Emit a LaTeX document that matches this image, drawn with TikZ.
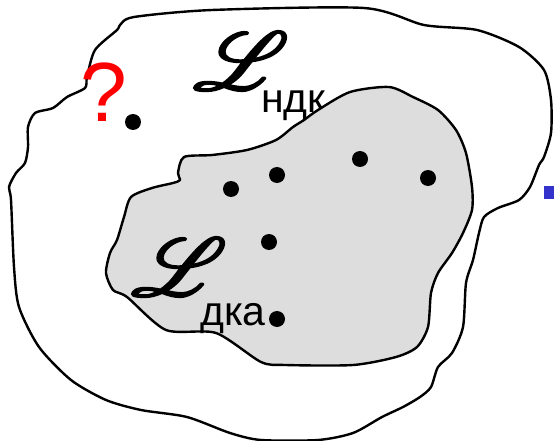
\documentclass[tikz,border=0pt]{standalone}
\usepackage{fontspec}
\usepackage{mathrsfs}
\setmainfont{Liberation Sans}
\definecolor{blobgray}{HTML}{DDDDDD}
\definecolor{qred}{HTML}{FF0000}
\definecolor{sqblue}{HTML}{3333CC}
\newcommand{\heavyscript}[1]{\special{pdf:literal direct 2 Tr 0.25 w}$\mathscr{#1}$\special{pdf:literal direct 0 Tr}}
\tikzset{
  blobline/.style={draw=black, line width=2.4pt, line join=round},
  dotmark/.style={circle, fill=black, inner sep=0pt, minimum size=16pt},
  bigL/.style={inner sep=0pt, xscale=9.0, yscale=8.2},
  subtxt/.style={inner sep=0pt, anchor=base west, font=\fontsize{41}{41}\selectfont},
}
\begin{document}
\begin{tikzpicture}[x=1pt,y=-1pt]
\useasboundingbox (0,0) rectangle (554,441);
% outer blob
\draw[blobline, fill=white] plot[smooth cycle, tension=0.45] coordinates {
 (120,25) (134,17) (212,10) (364,8) (424,25) (477,30) (519,47) (544,70)
 (551,100) (551,133) (544,157) (539,165) (530,187) (519,200) (498,208)
 (484,217) (479,233) (473,260) (466,283) (463,327) (452,353) (438,367)
 (431,387) (420,397) (403,407) (382,417) (353,433) (318,440) (261,440)
 (230,433) (187,417) (141,410) (106,400) (71,380) (39,347) (19,307)
 (14,267) (11,200) (9,187) (16,173) (25,163) (28,147) (28,127) (35,113)
 (53,108) (67,97) (85,88) (87,77) (95,50) (117,30)};
% label L_ndk
\node[bigL] (Lndk) at (241,61) {\heavyscript{L}};
\node[subtxt] (ndk) at (261,113) {ндк};
% inner blob
\draw[blobline, fill=blobgray] plot[smooth cycle, tension=0.45] coordinates {
 (184,157) (212,155) (247,150) (276,140) (293,127) (304,120) (318,110)
 (350,92) (389,87) (413,97) (438,110) (456,130) (466,153) (472,187)
 (472,210) (463,233) (452,253) (438,273) (431,293) (428,327) (417,347)
 (396,357) (353,365) (286,365) (261,362) (216,333) (166,330) (127,297)
 (113,290) (106,273) (110,253) (117,240) (124,217) (131,197) (152,188)
 (173,183) (180,180) (178,173)};
% dots
\node[dotmark] (d1) at (133,122) {};
\node[dotmark] (d2) at (231,189) {};
\node[dotmark] (d3) at (277,175) {};
\node[dotmark] (d4) at (360,159) {};
\node[dotmark] (d5) at (428,178) {};
\node[dotmark] (d6) at (269,242) {};
\node[dotmark] (d7) at (277,319) {};
% label L_dka
\node[bigL] (Ldka) at (179,267) {\heavyscript{L}};
\node[subtxt] (dka) at (200,325) {дка};
% question mark
\node[inner sep=0pt, text=qred, font=\fontsize{84}{84}\selectfont] (q) at (104,92) {?};
% blue square
\fill[sqblue] (544,186) rectangle (556,199);
\end{tikzpicture}
\end{document}
